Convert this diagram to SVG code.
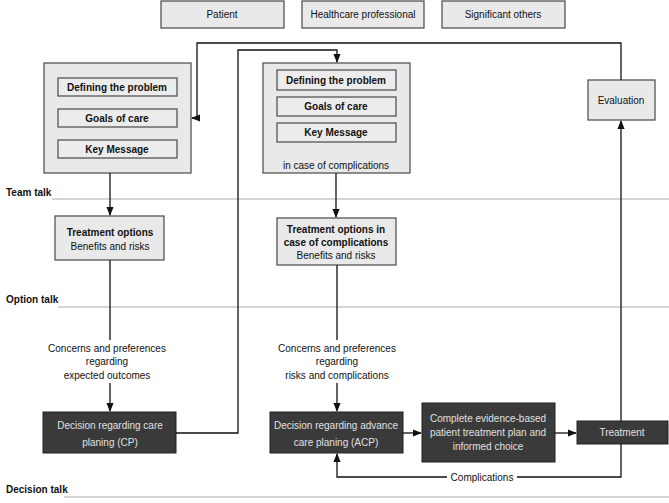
<svg xmlns="http://www.w3.org/2000/svg" width="669" height="503" viewBox="0 0 669 503">
<style>
text{font-family:"Liberation Sans",Arial,sans-serif;font-size:10px;fill:#111;text-anchor:middle}
.b{font-weight:bold}
.lbl{text-anchor:start;font-weight:bold}
.lt{fill:#e9e9e9;stroke:#555;stroke-width:1.3}
.in{fill:#ececec;stroke:#555;stroke-width:1.3}
.dk{fill:#3a3a3a;stroke:#222;stroke-width:1}
.dt{fill:#e0e0e0}
.c{fill:none;stroke:#111;stroke-width:1.3}
.sep{stroke:#aaa;stroke-width:1}
</style>
<defs><marker id="a" viewBox="0 0 10 10" refX="9" refY="5" markerWidth="7" markerHeight="7" orient="auto"><path d="M0,1 L10,5 L0,9z" fill="#111"/></marker></defs>
<g id="roles">
<rect class="lt" x="161" y="1" width="123" height="27"/><text x="222" y="18">Patient</text>
<rect class="lt" x="302" y="1" width="122" height="27"/><text x="363" y="18">Healthcare professional</text>
<rect class="lt" x="442" y="1" width="123" height="27"/><text x="503" y="18">Significant others</text>
</g>
<g id="lines">
<line class="sep" x1="52" y1="199" x2="669" y2="199"/><text class="lbl" x="6" y="196">Team talk</text>
<line class="sep" x1="58" y1="307" x2="669" y2="307"/><text class="lbl" x="6" y="303">Option talk</text>
<line class="sep" x1="64" y1="497" x2="669" y2="497"/><text class="lbl" x="6" y="493">Decision talk</text>
</g>
<g id="left-team">
<rect class="lt" x="44" y="63" width="147" height="110"/>
<rect class="in" x="58" y="78" width="119" height="18"/><text class="b" x="117" y="91">Defining the problem</text>
<rect class="in" x="58" y="109" width="119" height="18"/><text class="b" x="117" y="122">Goals of care</text>
<rect class="in" x="58" y="140" width="119" height="18"/><text class="b" x="117" y="153">Key Message</text>
</g>
<g id="mid-team">
<rect class="lt" x="263" y="63" width="147" height="110"/>
<rect class="in" x="277" y="70" width="119" height="20"/><text class="b" x="336" y="84">Defining the problem</text>
<rect class="in" x="277" y="97" width="119" height="19"/><text class="b" x="336" y="110">Goals of care</text>
<rect class="in" x="277" y="123" width="119" height="19"/><text class="b" x="336" y="136">Key Message</text>
<text x="336" y="169">in case of complications</text>
</g>
<g id="evaluation"><rect class="lt" x="588" y="80" width="67" height="40"/><text x="621" y="104">Evaluation</text></g>
<g id="left-options"><rect class="lt" x="55" y="216" width="109" height="44"/><text class="b" x="110" y="236">Treatment options</text><text x="110" y="250">Benefits and risks</text></g>
<g id="mid-options"><rect class="lt" x="277" y="218" width="119" height="47"/><text class="b" x="336" y="233">Treatment options in</text><text class="b" x="336" y="246">case of complications</text><text x="336" y="259">Benefits and risks</text></g>
<g id="left-concerns"><text x="107" y="352">Concerns and preferences</text><text x="107" y="365">regarding</text><text x="107" y="379">expected outcomes</text></g>
<g id="mid-concerns"><text x="337" y="352">Concerns and preferences</text><text x="337" y="365">regarding</text><text x="337" y="379">risks and complications</text></g>
<g id="cp"><rect class="dk" x="43" y="412" width="133" height="41"/><text class="dt" x="110" y="429">Decision regarding care</text><text class="dt" x="110" y="446">planing (CP)</text></g>
<g id="acp"><rect class="dk" x="270" y="412" width="133" height="41"/><text class="dt" x="336" y="429">Decision regarding advance</text><text class="dt" x="336" y="446">care planing (ACP)</text></g>
<g id="plan"><rect class="dk" x="422" y="403" width="133" height="59"/><text class="dt" x="488" y="422">Complete evidence-based</text><text class="dt" x="488" y="436">patient treatment plan and</text><text class="dt" x="488" y="450">informed choice</text></g>
<g id="treatment"><rect class="dk" x="577" y="421" width="91" height="23"/><text class="dt" x="622" y="436">Treatment</text></g>
<g id="connectors">
<path class="c" d="M110,173 V215" marker-end="url(#a)"/>
<path class="c" d="M336,173 V217" marker-end="url(#a)"/>
<path class="c" d="M110,260 V340 M110,383 V411" marker-end="url(#a)"/>
<path class="c" d="M337,265 V340 M337,383 V411" marker-end="url(#a)"/>
<path class="c" d="M176,433 H238 V50 H337 V62" marker-end="url(#a)"/>
<path class="c" d="M621,80 V43 H197 V118 H192" marker-end="url(#a)"/>
<path class="c" d="M403,433 H421" marker-end="url(#a)"/>
<path class="c" d="M555,433 H576" marker-end="url(#a)"/>
<path class="c" d="M621,421 V121" marker-end="url(#a)"/>
<path class="c" d="M621,444 V477 H517 M447,477 H337 V454" marker-end="url(#a)"/>
<text x="482" y="481">Complications</text>
</g>
</svg>
